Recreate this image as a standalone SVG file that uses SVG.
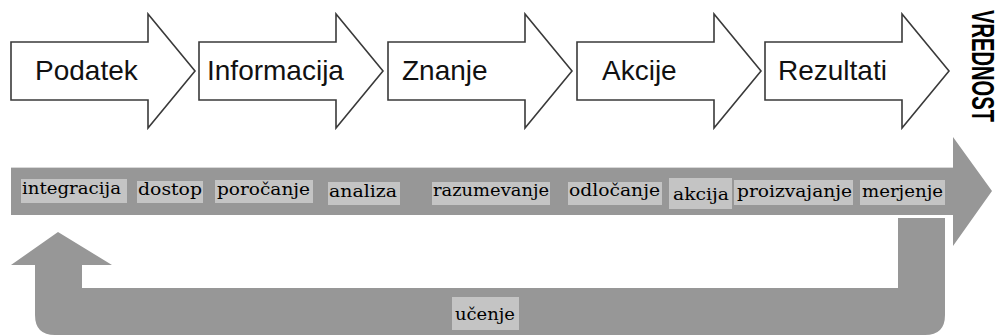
<svg xmlns="http://www.w3.org/2000/svg" width="1000" height="336" viewBox="0 0 1000 336">
  <style>
    .stage { fill: #ffffff; stroke: #3a3a3a; stroke-width: 1.6; stroke-linejoin: miter; }
    .stage-label { font-family: "Liberation Sans", Arial, sans-serif; font-size: 28px; fill: #111; }
    .flow { fill: #979797; }
    .tag { fill: #c4c4c4; }
    .tag-label { font-family: "DejaVu Serif", "Liberation Serif", serif; font-size: 16px; fill: #000; }
    .value { font-family: "Liberation Sans Narrow", "Liberation Sans", Arial, sans-serif; font-weight: bold; font-size: 31px; fill: #000; }
  </style>
  <defs>
    <path id="stage-arrow" d="M0,42 H137 V14 L184,71 L137,128 V100 H0 Z"/>
  </defs>

  <rect width="1000" height="336" fill="#ffffff"/>

  <!-- top chain of stages -->
  <g id="podatek">
    <use href="#stage-arrow" class="stage" transform="translate(11,0)"/>
    <text class="stage-label" x="35" y="80">Podatek</text>
  </g>
  <g id="informacija">
    <use href="#stage-arrow" class="stage" transform="translate(199,0)"/>
    <text class="stage-label" x="207" y="80">Informacija</text>
  </g>
  <g id="znanje">
    <use href="#stage-arrow" class="stage" transform="translate(388,0)"/>
    <text class="stage-label" x="402" y="80">Znanje</text>
  </g>
  <g id="akcije">
    <use href="#stage-arrow" class="stage" transform="translate(577,0)"/>
    <text class="stage-label" x="602" y="80">Akcije</text>
  </g>
  <g id="rezultati">
    <use href="#stage-arrow" class="stage" transform="translate(765,0)"/>
    <text class="stage-label" x="778" y="80">Rezultati</text>
  </g>

  <g id="vrednost">
    <text class="value" transform="translate(972,10) rotate(90)" x="0" y="0" textLength="112" lengthAdjust="spacingAndGlyphs">VREDNOST</text>
  </g>

  <!-- connectors: main process band and the learning loop -->
  <g id="connectors">
    <path class="flow" d="M11,168 H953 V137 L992,191 L953,246 V215 H11 Z"/>
    <line x1="11" y1="167.5" x2="953" y2="167.5" stroke="#d8d8d8" stroke-width="1"/>
    <path class="flow" d="M898,218 H945 V315 Q945,335 925,335 H55 Q35,335 35,315 V265 H11 L58,232 L112,265 H82 V288 H898 Z"/>
  </g>

  <!-- activity tags on the band -->
  <g id="integracija">
    <rect class="tag" x="21" y="179" width="106" height="24"/>
    <text class="tag-label" x="22" y="194" textLength="99" lengthAdjust="spacingAndGlyphs">integracija</text>
  </g>
  <g id="dostop">
    <rect class="tag" x="137" y="181" width="66" height="22"/>
    <text class="tag-label" x="138" y="195" textLength="64" lengthAdjust="spacingAndGlyphs">dostop</text>
  </g>
  <g id="porocanje">
    <rect class="tag" x="215" y="180" width="98" height="23"/>
    <text class="tag-label" x="217" y="195" textLength="93" lengthAdjust="spacingAndGlyphs">poročanje</text>
  </g>
  <g id="analiza">
    <rect class="tag" x="328" y="182" width="72" height="23"/>
    <text class="tag-label" x="329" y="197" textLength="68" lengthAdjust="spacingAndGlyphs">analiza</text>
  </g>
  <g id="razumevanje">
    <rect class="tag" x="432" y="182" width="118" height="23"/>
    <text class="tag-label" x="433" y="196" textLength="116" lengthAdjust="spacingAndGlyphs">razumevanje</text>
  </g>
  <g id="odlocanje">
    <rect class="tag" x="568" y="182" width="94" height="23"/>
    <text class="tag-label" x="569" y="196" textLength="91" lengthAdjust="spacingAndGlyphs">odločanje</text>
  </g>
  <g id="akcija">
    <rect class="tag" x="669" y="178" width="63" height="31"/>
    <text class="tag-label" x="673" y="200" font-size="19" textLength="56" lengthAdjust="spacingAndGlyphs">akcija</text>
  </g>
  <g id="proizvajanje">
    <rect class="tag" x="734" y="180" width="119" height="25"/>
    <text class="tag-label" x="737" y="197" textLength="115" lengthAdjust="spacingAndGlyphs">proizvajanje</text>
  </g>
  <g id="merjenje">
    <rect class="tag" x="860" y="180" width="85" height="25"/>
    <text class="tag-label" x="862" y="197" textLength="81" lengthAdjust="spacingAndGlyphs">merjenje</text>
  </g>
  <g id="ucenje">
    <rect class="tag" x="452" y="297" width="67" height="33"/>
    <text class="tag-label" x="455" y="320" font-size="17" textLength="60" lengthAdjust="spacingAndGlyphs">učenje</text>
  </g>
</svg>
